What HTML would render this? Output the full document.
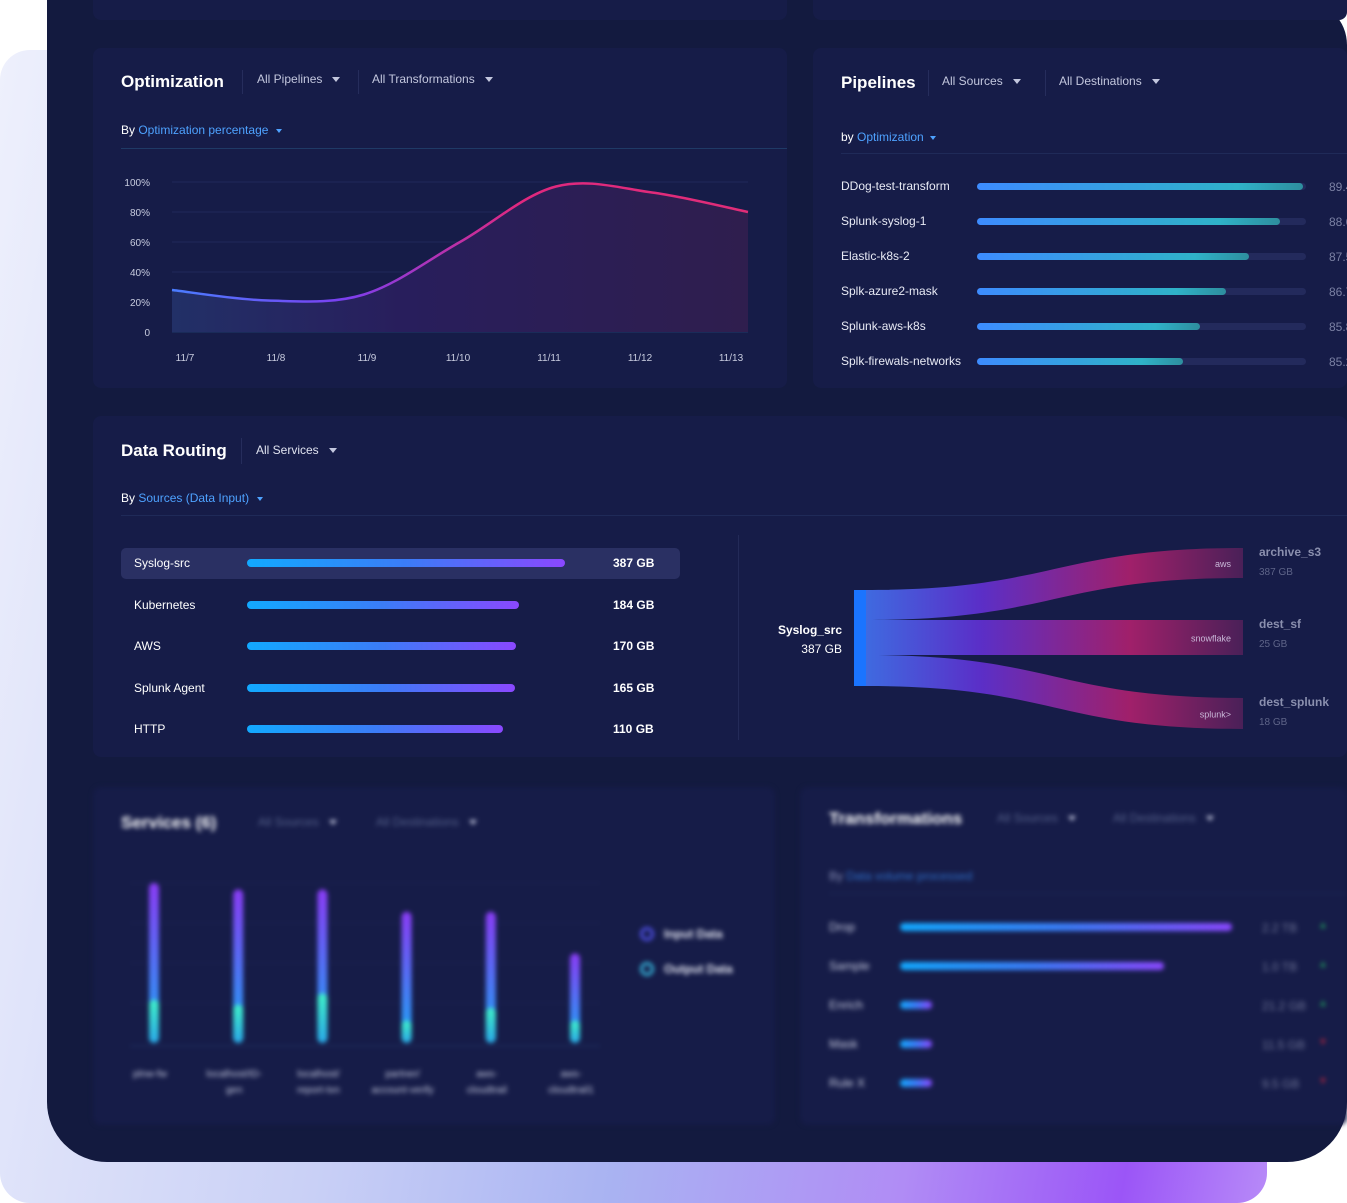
<!DOCTYPE html>
<html><head><meta charset="utf-8">
<style>
*{box-sizing:border-box;margin:0;padding:0}
body{width:1347px;height:1203px;background:#fff;position:relative;overflow:hidden;font-family:"Liberation Sans",sans-serif;color:#fff}
.abs{position:absolute}
.backglow{left:0;top:50px;width:1267px;height:1153px;border-radius:30px;background:linear-gradient(100deg,#eef0fc 0%,#c9d0f6 35%,#a9b3f2 55%,#b08cf5 75%,#9b55f7 90%,#b78af8 100%)}
.card{left:47px;top:0;width:1300px;height:1162px;background:#131a3f;border-radius:0 45px 60px 60px}
.panel{background:#161c48;border-radius:8px}
.title{font-size:17px;font-weight:bold;color:#fff}
.dd{font-size:12px;color:#c3c7de}
.caret{display:inline-block;width:0;height:0;border-left:4px solid transparent;border-right:4px solid transparent;border-top:5px solid #c3c7de;margin-left:10px;vertical-align:middle}
.sub{font-size:12px;color:#fff}
.sub span{color:#4ea2ff}
.sep{width:1px;background:#262d5c}
.lbl{font-size:12px;color:#e8eaf5}
.blur{filter:blur(2.5px)}
</style></head><body>
<div class="abs backglow"></div>
<div class="abs card"></div>
<div class="abs panel" style="left:93px;top:-10px;width:694px;height:30px"></div>
<div class="abs panel" style="left:813px;top:-10px;width:534px;height:30px"></div>

<div class="abs panel" style="left:93px;top:48px;width:694px;height:340px"></div>
<div class="abs title" style="left:121px;top:72px">Optimization</div>
<div class="abs sep" style="left:242px;top:70px;height:24px"></div>
<div class="abs dd" style="left:257px;top:72px">All Pipelines<i class="caret"></i></div>
<div class="abs sep" style="left:358px;top:70px;height:24px"></div>
<div class="abs dd" style="left:372px;top:72px">All Transformations<i class="caret"></i></div>
<div class="abs sub" style="left:121px;top:123px">By <span>Optimization percentage</span><i class="caret" style="border-top-color:#4ea2ff;border-width:4px 3px 0;margin-left:8px"></i></div>
<div class="abs" style="left:121px;top:148px;width:666px;height:1px;background:#1f3a66"></div>
<svg class="abs" id="lineChart" style="left:0;top:0" width="800" height="390"></svg>

<div class="abs panel" style="left:813px;top:48px;width:534px;height:340px"></div>
<div class="abs title" style="left:841px;top:73px">Pipelines</div>
<div class="abs sep" style="left:928px;top:70px;height:26px"></div>
<div class="abs dd" style="left:942px;top:74px">All Sources<i class="caret"></i></div>
<div class="abs sep" style="left:1045px;top:70px;height:26px"></div>
<div class="abs dd" style="left:1059px;top:74px">All Destinations<i class="caret"></i></div>
<div class="abs sub" style="left:841px;top:130px">by <span>Optimization</span><i class="caret" style="border-top-color:#4ea2ff;border-width:4px 3px 0;margin-left:6px"></i></div>
<div class="abs" style="left:841px;top:153px;width:506px;height:1px;background:#1f2a58"></div>
<div id="pipes"></div>

<div class="abs panel" style="left:93px;top:416px;width:1254px;height:341px"></div>
<div class="abs title" style="left:121px;top:441px">Data Routing</div>
<div class="abs sep" style="left:241px;top:438px;height:26px"></div>
<div class="abs dd" style="left:256px;top:443px;color:#e0e3f0">All Services<i class="caret"></i></div>
<div class="abs sub" style="left:121px;top:491px">By <span>Sources (Data Input)</span><i class="caret" style="border-top-color:#4ea2ff;border-width:4px 3px 0;margin-left:8px"></i></div>
<div class="abs" style="left:121px;top:515px;width:1226px;height:1px;background:#1f2a58"></div>
<div class="abs" style="left:121px;top:548px;width:559px;height:31px;background:#2a3063;border-radius:5px"></div>
<div id="routes"></div>
<div class="abs" style="left:738px;top:535px;width:1px;height:205px;background:#232a58"></div>
<svg class="abs" id="sankey" style="left:740px;top:530px" width="607" height="220"></svg>

<div class="abs blur" style="left:0;top:0;width:1347px;height:1203px;pointer-events:none">
 <div class="abs panel" style="left:93px;top:787px;width:682px;height:338px"></div>
 <div class="abs title" style="left:121px;top:813px">Services (6)</div>
 <div class="abs dd" style="left:258px;top:815px;color:#55608a">All Sources<i class="caret"></i></div>
 <div class="abs dd" style="left:376px;top:815px;color:#55608a">All Destinations<i class="caret"></i></div>
 <div class="abs" style="left:640px;top:927px;width:14px;height:14px;border-radius:50%;border:3px solid #4d4ee0"></div>
 <div class="abs lbl" style="left:664px;top:927px;font-weight:bold">Input Data</div>
 <div class="abs" style="left:640px;top:962px;width:14px;height:14px;border-radius:50%;border:3px solid #35b0d6"></div>
 <div class="abs lbl" style="left:664px;top:962px;font-weight:bold">Output Data</div>
 <svg class="abs" id="svc" style="left:0;top:0" width="800" height="1120"></svg>
 <div class="abs panel" style="left:800px;top:787px;width:547px;height:338px"></div>
 <div class="abs title" style="left:829px;top:809px">Transformations</div>
 <div class="abs dd" style="left:997px;top:811px;color:#55608a">All Sources<i class="caret"></i></div>
 <div class="abs dd" style="left:1113px;top:811px;color:#55608a">All Destinations<i class="caret"></i></div>
 <div class="abs sub" style="left:829px;top:869px;color:#8890b8">By <span style="color:#2f6fc9">Data volume processed</span></div>
 <div class="abs" style="left:829px;top:893px;width:518px;height:1px;background:#1f2a58"></div>
 <div id="trans"></div>
</div>

<script>
var optDates=["11/7","11/8","11/9","11/10","11/11","11/12","11/13"];
var optValues=[28,21,25,60,97,93,80];
var optTicks=[0,20,40,60,80,100];
var pipeNames=["DDog-test-transform","Splunk-syslog-1","Elastic-k8s-2","Splk-azure2-mask","Splunk-aws-k8s","Splk-firewals-networks"];
var pipeValues=[89.4,88.6,87.5,86.7,85.8,85.2];
var srcNames=["Syslog-src","Kubernetes","AWS","Splunk Agent","HTTP"];
var srcValues=[387,184,170,165,110];
var srcLabels=["387 GB","184 GB","170 GB","165 GB","110 GB"];
var destNames=["archive_s3","dest_sf","dest_splunk"];
var destLabels=["387 GB","25 GB","18 GB"];
var destLogos=["aws","snowflake","splunk>"];
var destShares=[30,35,31];
var svcNames=[["plnw-fw"],["localhost/ID-","gen"],["localhost/","report-txn"],["partner/","account-verify"],["aws-","cloudtrail"],["aws-","cloudtrail1"]];
var svcInput=[100,96,96,82,82,56];
var svcOutput=[27,24,31,14,22,14];
var trNames=["Drop","Sample","Enrich","Mask","Rule X"];
var trValues=[2200,1000,21.2,11.5,9.5];
var trLabels=["2.2 TB","1.0 TB","21.2 GB","11.5 GB","9.5 GB"];
var trUp=[true,true,true,false,false];

var SVGNS="http://www.w3.org/2000/svg";
function mkSvg(tag,attrs,parent){var e=document.createElementNS(SVGNS,tag);for(var k in attrs){e.setAttribute(k,attrs[k]);}parent.appendChild(e);return e;}
function mkBox(html,style,parent){var d=document.createElement('div');d.className='abs';d.style.cssText=style;d.innerHTML=html;parent.appendChild(d);return d;}

try{(function(){
 var s=document.getElementById('lineChart');
 var X0=172,X1=748,Y0=332,Y1=182;
 function xs(i){return X0+(X1-X0)*i/(optDates.length-1);}
 function ys(v){return Y0-(Y0-Y1)*v/100;}
 var defs=mkSvg('defs',{},s);
 var g=mkSvg('linearGradient',{id:'lg',x1:'0',x2:'1',y1:'0',y2:'0'},defs);
 mkSvg('stop',{offset:'0','stop-color':'#4a7dff'},g);mkSvg('stop',{offset:'0.3','stop-color':'#7b3ff0'},g);mkSvg('stop',{offset:'0.6','stop-color':'#e0287f'},g);mkSvg('stop',{offset:'1','stop-color':'#e02d78'},g);
 var ga=mkSvg('linearGradient',{id:'la',x1:'0',x2:'1',y1:'0',y2:'0'},defs);
 mkSvg('stop',{offset:'0','stop-color':'#223067'},ga);mkSvg('stop',{offset:'0.4','stop-color':'#281e5c'},ga);mkSvg('stop',{offset:'1','stop-color':'#2f1e4e'},ga);
 optTicks.forEach(function(t){
  var ln=mkSvg('line',{x1:X0,x2:X1,y1:ys(t),y2:ys(t),stroke:t==0?'#1f3a6a':'#20295a','stroke-width':1},s);
  
  var tx=mkSvg('text',{x:150,y:ys(t)+4,'text-anchor':'end','font-size':10,fill:'#c8ccdf'},s);
  tx.textContent=t==0?'0':t+'%';
  
 });
 optDates.forEach(function(t,i){
  var tx=mkSvg('text',{x:185+i*91,y:361,'text-anchor':'middle','font-size':10,fill:'#c8ccdf'},s);
  tx.textContent=t;
  
 });
 var P=optValues.map(function(v,i){return [xs(i),ys(v)];});
 var path='M'+P[0][0]+','+P[0][1];
 for(var i=0;i<P.length-1;i++){
  var p0=P[i-1]||P[i],p1=P[i],p2=P[i+1],p3=P[i+2]||P[i+1];
  var c1x=p1[0]+(p2[0]-p0[0])/6,c1y=p1[1]+(p2[1]-p0[1])/6,c2x=p2[0]-(p3[0]-p1[0])/6,c2y=p2[1]-(p3[1]-p1[1])/6;
  path+=' C'+c1x+','+c1y+' '+c2x+','+c2y+' '+p2[0]+','+p2[1];
 }
 var ar=mkSvg('path',{d:path+' L'+X1+','+Y0+' L'+X0+','+Y0+'Z',fill:'url(#la)'},s);
 
 var ln2=mkSvg('path',{d:path,fill:'none',stroke:'url(#lg)','stroke-width':2.5},s);
 
})();}catch(e){}

try{(function(){
 var p=document.getElementById('pipes');
 var bx=977,bw=329,dmin=78,dmax=89.5;
 pipeNames.forEach(function(n,i){
  var y=186+i*35;
  var lb=mkBox(n,'left:841px;top:'+(y-7)+'px;font-size:12px;color:#e8eaf5;white-space:nowrap',p);
  
  
  var tr=mkBox('','left:'+bx+'px;top:'+(y-3)+'px;width:'+bw+'px;height:7px;border-radius:4px;background:#232a5c',p);
  
  
  var w=bw*(pipeValues[i]-dmin)/(dmax-dmin);
  var f=mkBox('','left:'+bx+'px;top:'+(y-3)+'px;width:'+w+'px;height:7px;border-radius:4px;background:linear-gradient(90deg,#3d8cff,#2fb2c8 80%,#2e8e9e)',p);
  
  
  var v=mkBox(pipeValues[i].toFixed(1),'left:1329px;top:'+(y-6)+'px;font-size:12px;color:#7a80a3',p);
  
  
 });
})();}catch(e){}

try{(function(){
 var p=document.getElementById('routes');
 var bx=247,ka=231,kb=0.224;
 srcNames.forEach(function(n,i){
  var y=563+i*41.5;
  var lb=mkBox(n,'left:134px;top:'+(y-7)+'px;font-size:12px;color:#fff',p);
  
  
  var w=ka+kb*srcValues[i];
  var f=mkBox('','left:'+bx+'px;top:'+(y-4)+'px;width:'+w+'px;height:8px;border-radius:4px;background:linear-gradient(90deg,#12a9ff,#3b7cf7 50%,#8a48ff)',p);
  
  
  var v=mkBox(srcLabels[i],'left:613px;top:'+(y-7)+'px;font-size:12px;font-weight:bold;color:#fff',p);
  
  
 });
})();}catch(e){}

try{(function(){
 var s=document.getElementById('sankey');
 var defs=mkSvg('defs',{},s);
 var g=mkSvg('linearGradient',{id:'sg',x1:'0',x2:'1',y1:'0',y2:'0'},defs);
 mkSvg('stop',{offset:'0','stop-color':'#3f6ae0'},g);mkSvg('stop',{offset:'0.3','stop-color':'#5a2fc8'},g);mkSvg('stop',{offset:'0.7','stop-color':'#a0206a'},g);mkSvg('stop',{offset:'1','stop-color':'#4a2058'},g);
 var sx=126,ex=503,srcTop=60,srcH=96;
 var total=destShares.reduce(function(a,b){return a+b;},0);
 var dTops=[18,90,168];
 var cy=srcTop;
 destShares.forEach(function(v,i){
  var h=srcH*v/total,t0=cy,t1=cy+h;cy+=h;
  var dt=dTops[i],db=dTops[i]+h,mx=(sx+ex)/2;
  var pth=mkSvg('path',{d:'M'+sx+','+t0+' C'+mx+','+t0+' '+mx+','+dt+' '+ex+','+dt+' L'+ex+','+db+' C'+mx+','+db+' '+mx+','+t1+' '+sx+','+t1+'Z',fill:'url(#sg)'},s);
  
  var lg=mkSvg('text',{x:ex-12,y:dt+h/2+4,'text-anchor':'end','font-size':9,fill:'#c9b8d8'},s);
  lg.textContent=destLogos[i];
  
  var nm=mkSvg('text',{x:519,y:dt+8,'font-size':12,'font-weight':'bold',fill:'#8a8fae'},s);
  nm.textContent=destNames[i];
  
  var vl=mkSvg('text',{x:519,y:dt+27,'font-size':10,fill:'#5e6488'},s);
  vl.textContent=destLabels[i];
  
 });
 var r=mkSvg('rect',{x:sx-12,y:srcTop,width:12,height:srcH,fill:'#1a74ff'},s);
 
 var t=mkSvg('text',{x:102,y:104,'text-anchor':'end','font-size':12,'font-weight':'bold',fill:'#fff'},s);
 t.textContent='Syslog_src';
 
 var t2=mkSvg('text',{x:102,y:123,'text-anchor':'end','font-size':12,fill:'#fff'},s);
 t2.textContent='387 GB';
 
})();}catch(e){}

try{(function(){
 var s=document.getElementById('svc');
 var defs=mkSvg('defs',{},s);
 var g=mkSvg('linearGradient',{id:'vg',x1:'0',x2:'0',y1:'0',y2:'1'},defs);
 mkSvg('stop',{offset:'0','stop-color':'#8a3cf5'},g);mkSvg('stop',{offset:'1','stop-color':'#1aa6f5'},g);
 var g2=mkSvg('linearGradient',{id:'og',x1:'0',x2:'0',y1:'0',y2:'1'},defs);
 mkSvg('stop',{offset:'0','stop-color':'#3ff0c8'},g2);mkSvg('stop',{offset:'1','stop-color':'#2aa8e8'},g2);
 var base=1043,yTop=883;
 function ys(v){return base-(base-yTop)*v/100;}
 [883,923,963,1003].forEach(function(y){mkSvg('line',{x1:130,x2:600,y1:y,y2:y,stroke:'#1d2452'},s);});
 mkSvg('line',{x1:130,x2:600,y1:1046,y2:1046,stroke:'#203266'},s);
 svcNames.forEach(function(n,i){
  var x=154+i*84.2;
  var b=mkSvg('rect',{x:x-5,y:ys(svcInput[i]),width:10,height:base-ys(svcInput[i]),rx:5,fill:'url(#vg)'},s);
  
  var o=mkSvg('rect',{x:x-5,y:ys(svcOutput[i]),width:10,height:base-ys(svcOutput[i]),rx:5,fill:'url(#og)'},s);
  
  n.forEach(function(line,j){
   var t=mkSvg('text',{x:x-4,y:1077+j*16,'text-anchor':'middle','font-size':10,fill:'#c5c9de'},s);
   t.textContent=line;
   
  });
 });
})();}catch(e){}

try{(function(){
 var p=document.getElementById('trans');
 var bx=900,bmax=332;
 trNames.forEach(function(n,i){
  var y=927+i*39;
  var lb=mkBox(n,'left:829px;top:'+(y-7)+'px;font-size:12px;color:#c8cce0',p);
  
  
  var w=Math.max(32,bmax*Math.sqrt(trValues[i]/trValues[0])*(i==1?1.18:1)*(i>1?0.45:1));
  var f=mkBox('','left:'+bx+'px;top:'+(y-4)+'px;width:'+w+'px;height:8px;border-radius:4px;background:linear-gradient(90deg,#12a9ff,#3b7cf7 50%,#8a48ff)',p);
  
  
  var v=mkBox(trLabels[i],'left:1262px;top:'+(y-6)+'px;font-size:12px;color:#6d7396',p);
  
  
  var tr=mkBox(trUp[i]?'▲':'▼','left:1318px;top:'+(y-7)+'px;font-size:10px;color:'+(trUp[i]?'#1f8f5a':'#a0243f'),p);
  
  
 });
})();}catch(e){}
</script>
</body></html>
